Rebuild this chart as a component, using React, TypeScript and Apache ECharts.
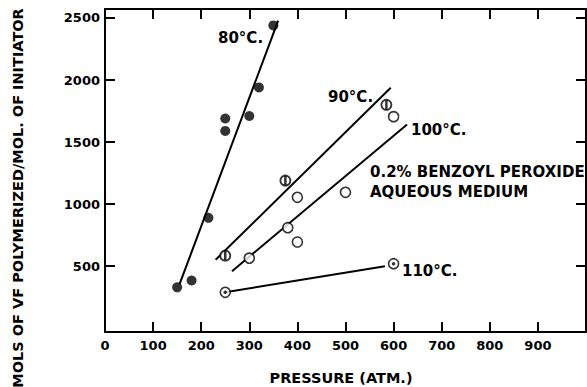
import React, { useEffect, useRef } from "react";
import * as echarts from "echarts";

// x: pressure (atm), y: mols of VF polymerized / mol of initiator
const p80x = [150, 180, 215, 250, 250, 300, 320, 350];
const p80y = [330, 385, 890, 1690, 1590, 1710, 1940, 2440];
const p90x = [250, 375, 585];
const p90y = [585, 1190, 1800];
const p100x = [300, 380, 400, 400, 500, 600];
const p100y = [565, 810, 695, 1055, 1095, 1705];
const p110x = [250, 600];
const p110y = [290, 520];

// fitted lines (start, end)
const fit80 = [[155, 355], [360, 2478]];
const fit90 = [[230, 552], [594, 1937]];
const fit100 = [[264, 460], [628, 1642]];
const fit110 = [[250, 290], [582, 500]];

const yTicks = [500, 1000, 1500, 2000, 2500];
const xMin = 0, xMax = 1000, xStep = 100;
const yMin = -30, yMax = 2572;

const zip = (xs: number[], ys: number[]) => xs.map((x, i) => [x, ys[i]]);

const FONT = "DejaVu Sans";

export default function App() {
  const ref = useRef<HTMLDivElement>(null);
  useEffect(() => {
    if (!ref.current) return;
    const chart = echarts.init(ref.current, null, { renderer: "svg" });
    const axisLine = { show: true, onZero: false, lineStyle: { color: "#000", width: 2 } };
    const tick = { show: true, inside: true, length: 10, lineStyle: { color: "#000", width: 2 } };
    const labelFont = {
      color: "#000", fontFamily: FONT, fontSize: 13, fontWeight: "bold" as const,
      formatter: (v: number) => String(v),
    };
    const lineSeries = (d: number[][]) => ({
      type: "line",
      data: d,
      symbol: "none",
      lineStyle: { color: "#000", width: 2 },
      silent: true,
      z: 1,
    });
    const note = (text: string, x: number, y: number, font: string) => ({
      type: "text", x, y,
      style: { text, fill: "#000", font, align: "left", verticalAlign: "middle" },
    });
    chart.setOption({
      animation: false,
      backgroundColor: "#fff",
      grid: { left: 105, right: 1, top: 9, bottom: 55, containLabel: false },
      xAxis: [
        {
          type: "value", position: "bottom", min: xMin, max: xMax, interval: xStep,
          axisLine, axisTick: tick, splitLine: { show: false },
          axisLabel: { ...labelFont, margin: 7, showMaxLabel: false },
        },
        {
          type: "value", position: "top", min: xMin, max: xMax, interval: xStep,
          axisLine, axisTick: tick, splitLine: { show: false },
          axisLabel: { show: false },
        },
      ],
      yAxis: [
        {
          type: "value", position: "left", min: yMin, max: yMax,
          axisLine, axisTick: { ...tick, customValues: yTicks }, splitLine: { show: false },
          axisLabel: { ...labelFont, margin: 5, customValues: yTicks },
        },
        {
          type: "value", position: "right", min: yMin, max: yMax,
          axisLine, axisTick: { ...tick, customValues: yTicks }, splitLine: { show: false },
          axisLabel: { show: false, customValues: yTicks },
        },
      ],
      series: [
        lineSeries(fit80),
        lineSeries(fit90),
        lineSeries(fit100),
        lineSeries(fit110),
        {
          type: "scatter", data: zip(p80x, p80y), symbol: "circle", symbolSize: 10,
          itemStyle: { color: "#000" }, z: 3,
        },
        {
          type: "scatter", data: zip(p90x, p90y), symbol: "circle", symbolSize: 10,
          itemStyle: { color: "#fff", borderColor: "#000", borderWidth: 1.8 }, z: 3,
        },
        {
          type: "scatter", data: zip(p90x, p90y), symbol: "rect", symbolSize: [2.5, 9],
          itemStyle: { color: "#000" }, z: 4,
        },
        {
          type: "scatter", data: zip(p100x, p100y), symbol: "circle", symbolSize: 10,
          itemStyle: { color: "#fff", borderColor: "#000", borderWidth: 1.6 }, z: 3,
        },
        {
          type: "scatter", data: zip(p110x, p110y), symbol: "circle", symbolSize: 10,
          itemStyle: { color: "#fff", borderColor: "#000", borderWidth: 1.6 }, z: 3,
        },
        {
          type: "scatter", data: zip(p110x, p110y), symbol: "circle", symbolSize: 3.5,
          itemStyle: { color: "#000" }, z: 4,
        },
      ],
      graphic: [
        {
          type: "text", x: 18, y: 198, rotation: Math.PI / 2,
          style: {
            text: "MOLS OF VF POLYMERIZED/MOL. OF INITIATOR", fill: "#000",
            font: `bold 14.5px "${FONT}"`, align: "center", verticalAlign: "middle",
          },
        },
        {
          type: "text", x: 341, y: 378,
          style: {
            text: "PRESSURE (ATM.)", fill: "#000",
            font: `bold 14.5px "${FONT}"`, align: "center", verticalAlign: "middle",
          },
        },
        note("80°C.", 218, 38, `bold 15px "${FONT}"`),
        note("90°C.", 328, 97, `bold 15px "${FONT}"`),
        note("100°C.", 411, 130, `bold 15px "${FONT}"`),
        note("110°C.", 402, 271, `bold 15px "${FONT}"`),
        note("0.2% BENZOYL PEROXIDE", 370, 172, `bold 15px "${FONT}"`),
        note("AQUEOUS MEDIUM", 370, 192, `bold 15px "${FONT}"`),
      ],
    });
    return () => chart.dispose();
  }, []);
  return (
    <div
      ref={ref}
      style={{ position: "fixed", left: 0, top: 0, width: 587, height: 387, background: "#fff" }}
    />
  );
}
